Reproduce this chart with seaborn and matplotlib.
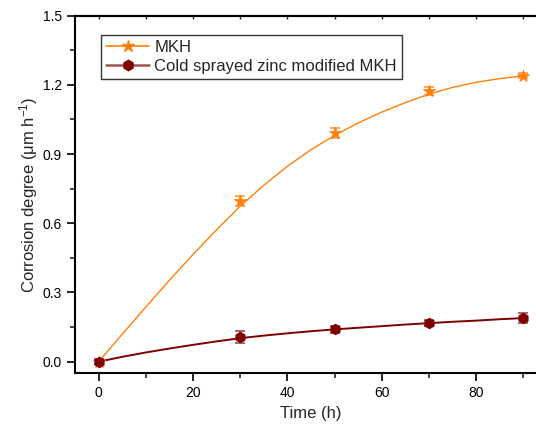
import numpy as np
import pandas as pd
import seaborn as sns
import matplotlib.pyplot as plt
from matplotlib.lines import Line2D
from matplotlib.ticker import MultipleLocator

# measured points
time_h = [0, 30, 50, 70, 90]
mkh = [0.0, 0.697, 0.990, 1.172, 1.240]
mkh_err = [0.010, 0.022, 0.022, 0.018, 0.012]
zinc = [0.0, 0.107, 0.140, 0.167, 0.189]
zinc_err = [0.010, 0.025, 0.015, 0.012, 0.020]

# fitted curves
fit_time = [0, 5, 10, 15, 20, 25, 30, 35, 40, 45, 50, 55, 60, 65, 70, 75, 80, 85, 90]
mkh_fit = [0.0, 0.119, 0.237, 0.353, 0.465, 0.572, 0.674, 0.765, 0.847, 0.919,
           0.981, 1.035, 1.082, 1.123, 1.160, 1.189, 1.211, 1.227, 1.239]
zinc_fit = [0.0, 0.021, 0.040, 0.057, 0.073, 0.088, 0.102, 0.113, 0.123, 0.132,
            0.140, 0.147, 0.154, 0.161, 0.167, 0.173, 0.178, 0.184, 0.189]

orange = '#FF7F0A'
dark_red = '#7F0000'

sns.set_style('ticks')
plt.rcParams['font.family'] = ['Liberation Sans', 'DejaVu Sans']
plt.rcParams['mathtext.fontset'] = 'custom'
plt.rcParams['mathtext.rm'] = 'Liberation Sans'
plt.rcParams['mathtext.it'] = 'Liberation Sans:italic'

fig = plt.figure(figsize=(5.36, 4.28), dpi=100)
ax = fig.add_axes([0.14, 0.128, 0.8806, 0.8355])

fit_df = pd.DataFrame({'time': fit_time, 'MKH': mkh_fit, 'Zinc': zinc_fit})
sns.lineplot(data=fit_df, x='time', y='MKH', color=orange, lw=1.0, ax=ax)
sns.lineplot(data=fit_df, x='time', y='Zinc', color=dark_red, lw=1.4, ax=ax)

ax.errorbar(time_h, mkh, yerr=mkh_err, fmt='none', ecolor='#FF9A40',
            elinewidth=1.2, capsize=3.5, capthick=1.2, zorder=3)
ax.errorbar(time_h, zinc, yerr=zinc_err, fmt='none', ecolor='#A04848',
            elinewidth=1.2, capsize=3.5, capthick=1.2, zorder=3)

pts = pd.DataFrame({'time': time_h, 'MKH': mkh, 'Zinc': zinc})
sns.scatterplot(data=pts, x='time', y='MKH', marker='*', s=85, color=orange,
                edgecolor=orange, linewidth=0.5, ax=ax, zorder=4)
sns.scatterplot(data=pts, x='time', y='Zinc', marker='h', s=60, color=dark_red,
                edgecolor=dark_red, linewidth=0.5, ax=ax, zorder=4)

ax.set_xlim(-5, 95)
ax.set_ylim(-0.05, 1.5)
ax.xaxis.set_major_locator(MultipleLocator(20))
ax.xaxis.set_minor_locator(MultipleLocator(10))
ax.yaxis.set_major_locator(MultipleLocator(0.3))
ax.yaxis.set_minor_locator(MultipleLocator(0.15))
ax.yaxis.set_major_formatter(plt.FormatStrFormatter('%.1f'))

ax.tick_params(which='major', direction='out', length=6, width=1.2,
               labelsize=10, colors='black')
ax.tick_params(which='minor', direction='out', length=3.5, width=1.2)
ax.tick_params(which='both', top=False, right=False)
for side in ['left', 'bottom', 'top', 'right']:
    ax.spines[side].set_linewidth(1.5)
    ax.spines[side].set_color('black')

# small ticks along the top edge
top = ax.secondary_xaxis('top')
top.xaxis.set_major_locator(MultipleLocator(10))
top.tick_params(direction='in', length=2.5, width=1.0, labeltop=False)
top.spines['top'].set_linewidth(1.5)

ax.set_xlabel('Time (h)', fontsize=12, labelpad=4)
ax.set_ylabel('Corrosion degree (μm h$^{-1}$)', fontsize=12, labelpad=2)

handles = [
    Line2D([], [], color=orange, lw=1.2, marker='*', markersize=9,
           markerfacecolor=orange, markeredgecolor=orange),
    Line2D([], [], color='#A05050', lw=1.8, marker='h', markersize=7.5,
           markerfacecolor=dark_red, markeredgecolor=dark_red),
]
leg = ax.legend(handles, ['MKH', 'Cold sprayed zinc modified MKH'],
                loc='upper left', bbox_to_anchor=(0.055, 0.945),
                fontsize=12, frameon=True, fancybox=False, shadow=False,
                edgecolor='black', handlelength=2.6, handletextpad=0.3,
                borderpad=0.3, labelspacing=0.2, borderaxespad=0)
leg.get_frame().set_linewidth(1.0)

fig.savefig('out.png', dpi=100)
